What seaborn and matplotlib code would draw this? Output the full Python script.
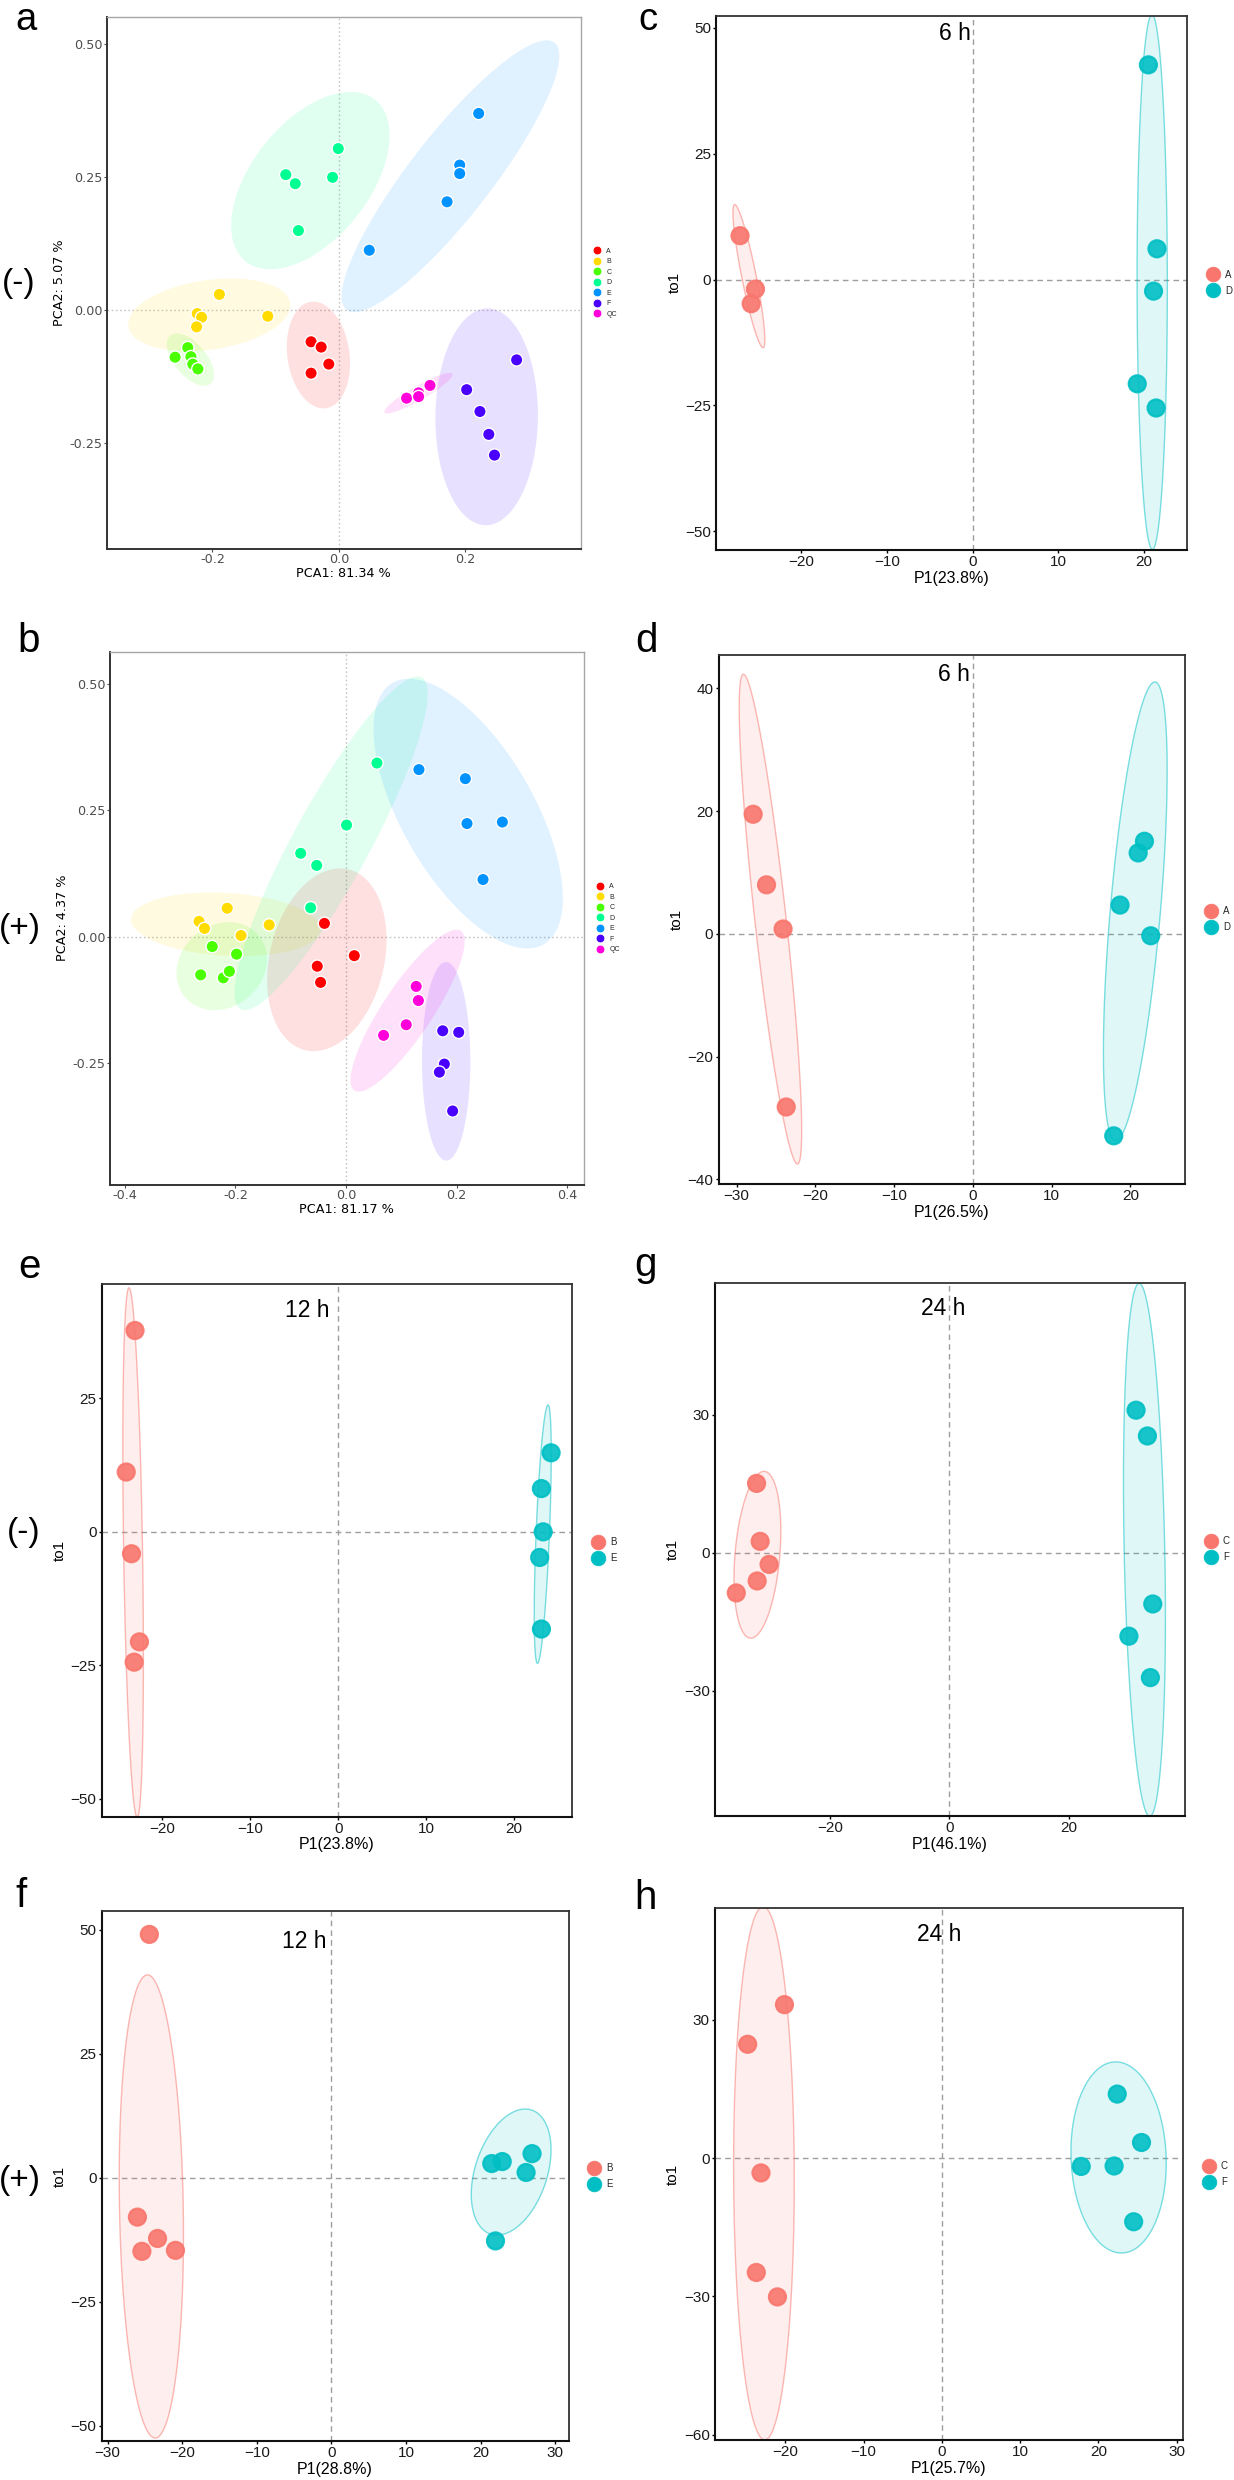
import numpy as np
import pandas as pd
import matplotlib
matplotlib.use("Agg")
import matplotlib.pyplot as plt
from matplotlib.lines import Line2D
from matplotlib.colors import to_rgba
import seaborn as sns

sns.set_theme(style="ticks")
plt.rcParams["font.family"] = ["Liberation Sans", "DejaVu Sans"]

# ---------------- data ----------------
pca_groups = ["A", "B", "C", "D", "E", "F", "QC"]
pca_colors = ["#FF0000", "#FFDB00", "#49FF00", "#00FF92", "#0092FF", "#4900FF", "#FF00DB"]
opls_colors = ["#F8766D", "#00BFC4"]

# a: PCA (-)
a_group = ["A"] * 4 + ["B"] * 5 + ["C"] * 5 + ["D"] * 5 + ["E"] * 5 + ["F"] * 5 + ["QC"] * 4
a_x = [-0.044, -0.028, -0.016, -0.044,
       -0.189, -0.224, -0.217, -0.225, -0.1125,
       -0.239, -0.259, -0.234, -0.231, -0.223,
       -0.001, -0.084, -0.069, -0.010, -0.064,
       0.221, 0.191, 0.191, 0.171, 0.048,
       0.281, 0.202, 0.223, 0.237, 0.246,
       0.107, 0.126, 0.126, 0.144]
a_y = [-0.060, -0.070, -0.102, -0.119,
       0.029, -0.007, -0.014, -0.032, -0.012,
       -0.071, -0.089, -0.088, -0.102, -0.111,
       0.303, 0.254, 0.237, 0.249, 0.149,
       0.369, 0.272, 0.256, 0.203, 0.112,
       -0.094, -0.150, -0.191, -0.234, -0.273,
       -0.166, -0.156, -0.163, -0.142]

# b: PCA (+)
b_group = ["A"] * 4 + ["B"] * 5 + ["C"] * 5 + ["D"] * 5 + ["E"] * 5 + ["F"] * 5 + ["QC"] * 4
b_x = [-0.039, 0.015, -0.052, -0.046,
       -0.215, -0.266, -0.256, -0.190, -0.139,
       -0.242, -0.198, -0.263, -0.222, -0.211,
       0.056, 0.001, -0.082, -0.053, -0.064,
       0.132, 0.216, 0.219, 0.283, 0.248,
       0.175, 0.204, 0.178, 0.169, 0.193,
       0.127, 0.131, 0.109, 0.068]
b_y = [0.026, -0.038, -0.059, -0.091,
       0.056, 0.030, 0.016, 0.002, 0.023,
       -0.020, -0.035, -0.076, -0.082, -0.069,
       0.344, 0.221, 0.165, 0.141, 0.057,
       0.331, 0.313, 0.224, 0.227, 0.113,
       -0.187, -0.190, -0.253, -0.269, -0.346,
       -0.099, -0.127, -0.175, -0.196]

# c: OPLS-DA 6 h (-)
c_group = ["A", "A", "A", "D", "D", "D", "D", "D"]
c_x = [-27.1, -25.3, -25.8, 20.5, 21.5, 21.1, 19.2, 21.4]
c_y = [8.7, -1.9, -4.8, 42.6, 6.1, -2.3, -20.7, -25.5]

# d: OPLS-DA 6 h (+)
d_group = ["A", "A", "A", "A", "D", "D", "D", "D", "D"]
d_x = [-27.9, -26.2, -24.1, -23.7, 21.8, 21.0, 18.7, 22.6, 17.9]
d_y = [19.5, 8.0, 0.8, -28.2, 15.1, 13.2, 4.7, -0.3, -32.9]

# e: OPLS-DA 12 h (-)
e_group = ["B"] * 5 + ["E"] * 5
e_x = [-23.1, -24.1, -23.5, -22.6, -23.2, 24.2, 23.1, 23.3, 22.9, 23.1]
e_y = [37.7, 11.2, -4.1, -20.6, -24.4, 14.8, 8.1, 0.0, -4.8, -18.2]

# f: OPLS-DA 12 h (+)
f_group = ["B"] * 5 + ["E"] * 5
f_x = [-24.4, -26.0, -23.3, -25.4, -20.9, 21.5, 22.9, 26.9, 26.1, 22.0]
f_y = [49.1, -7.9, -12.2, -14.8, -14.6, 2.9, 3.3, 4.9, 1.1, -12.7]

# g: OPLS-DA 24 h (-)
g_group = ["C"] * 5 + ["F"] * 5
g_x = [-32.3, -31.7, -30.2, -32.2, -35.7, 31.3, 33.2, 34.1, 30.1, 33.7]
g_y = [15.1, 2.5, -2.5, -6.1, -8.7, 31.0, 25.4, -11.1, -18.1, -27.1]

# h: OPLS-DA 24 h (+)
h_group = ["C"] * 5 + ["F"] * 5
h_x = [-20.1, -24.8, -23.1, -23.7, -21.0, 22.4, 25.5, 17.8, 22.0, 24.5]
h_y = [33.3, 24.7, -3.2, -24.8, -30.1, 13.9, 3.4, -1.8, -1.7, -13.8]

# tick labels
pca_yticks = [-0.25, 0.0, 0.25, 0.50]
pca_ytick_labels = ["-0.25", "0.00", "0.25", "0.50"]
a_xticks = [-0.2, 0.0, 0.2]
a_xtick_labels = ["-0.2", "0.0", "0.2"]
b_xticks = [-0.4, -0.2, 0.0, 0.2, 0.4]
b_xtick_labels = ["-0.4", "-0.2", "0.0", "0.2", "0.4"]

W, H = 1234, 2480
fig = plt.figure(figsize=(W / 100, H / 100), dpi=100)
fig.patch.set_facecolor("white")


def px_axes(l, r, t, b):
    return fig.add_axes([l / W, 1 - b / H, (r - l) / W, (b - t) / H])


def cov_trob(pts, nu=5, maxit=25, tol=0.01):
    # robust t covariance (as MASS::cov.trob)
    n, p = pts.shape
    loc = pts.mean(axis=0)
    w = np.ones(n)
    for _ in range(maxit):
        w0 = w
        X = pts - loc
        _, d, vt = np.linalg.svd(np.sqrt(w / w.sum())[:, None] * X, full_matrices=False)
        wX = X @ vt.T / d
        Q = (wX ** 2).sum(axis=1)
        w = (nu + p) / (nu + Q)
        loc = (w[:, None] * pts).sum(axis=0) / w.sum()
        if np.all(np.abs(w - w0) < tol):
            break
    sX = np.sqrt(w)[:, None] * X
    return loc, sX.T @ sX / n


def ellipse(xs, ys, level=0.95, chisq=False):
    pts = np.column_stack([xs, ys])
    center, shape = cov_trob(pts)
    if chisq:
        radius = np.sqrt(-2 * np.log(1 - level))
    else:
        dfd = len(xs) - 1
        fq = dfd / 2 * ((1 - level) ** (-2 / dfd) - 1)
        radius = np.sqrt(2 * fq)
    chol = np.linalg.cholesky(shape).T
    t = np.linspace(0, 2 * np.pi, 101)
    circ = np.column_stack([np.cos(t), np.sin(t)])
    e = center + radius * circ @ chol
    return e[:, 0], e[:, 1]


def place_labels(ax, rect, below, left):
    l, r, t, b = rect
    ax.xaxis.set_label_coords(0.5, -below / (b - t))
    ax.xaxis.label.set_va("center")
    ax.yaxis.set_label_coords(-left / (r - l), 0.5)
    ax.yaxis.label.set_va("center")


def legend_at(ax, rect, groups, colors, offset, fs, ms, hl, pad, spacing, edge):
    l, r, t, b = rect
    handles = [Line2D([], [], ls="", marker="o", markersize=ms, markerfacecolor=c,
                      markeredgecolor=edge if edge else c, markeredgewidth=0.6)
               for c in colors]
    anchor = r + offset - hl * fs * 100 / 72 / 2
    ax.legend(handles, groups, loc="center left",
              bbox_to_anchor=((anchor - l) / (r - l), 0.5),
              frameon=False, fontsize=fs, handlelength=hl, handletextpad=pad,
              labelspacing=spacing, borderpad=0, borderaxespad=0)


def draw_pca(rect, x, y, group, xlim, ylim, xticks, xtl, xlabel, ylabel):
    ax = px_axes(*rect)
    df = pd.DataFrame({"x": x, "y": y, "group": group})
    ax.axhline(0, color="#C4C4C4", lw=1.0, ls=(0, (1.2, 1.8)), zorder=0)
    ax.axvline(0, color="#C4C4C4", lw=1.0, ls=(0, (1.2, 1.8)), zorder=0)
    for g, col in zip(pca_groups, pca_colors):
        sub = df[df["group"] == g]
        ex, ey = ellipse(sub["x"].values, sub["y"].values)
        ax.fill(ex, ey, color=col, alpha=0.12, lw=0, zorder=1)
    sns.scatterplot(data=df, x="x", y="y", hue="group", hue_order=pca_groups,
                    palette=pca_colors, s=80, edgecolor="white", linewidth=1.0,
                    legend=False, ax=ax, zorder=3)
    ax.set_xlim(xlim)
    ax.set_ylim(ylim)
    ax.set_xticks(xticks)
    ax.set_xticklabels(xtl, fontsize=9.2, fontfamily="DejaVu Sans", color="#4D4D4D")
    ax.set_yticks(pca_yticks)
    ax.set_yticklabels(pca_ytick_labels, fontsize=9.2, fontfamily="DejaVu Sans", color="#4D4D4D")
    ax.tick_params(length=2, width=0.8, color="#4D4D4D", pad=1)
    ax.set_xlabel(xlabel, fontsize=9.2, fontfamily="DejaVu Sans", color="black")
    ax.set_ylabel(ylabel, fontsize=9.2, fontfamily="DejaVu Sans", color="black")
    for s in ["left", "bottom"]:
        ax.spines[s].set_color("#333333")
        ax.spines[s].set_linewidth(1.4)
    for s in ["top", "right"]:
        ax.spines[s].set_color("#A6A6A6")
        ax.spines[s].set_linewidth(1.0)
    place_labels(ax, rect, 24.6, 47.5)
    legend_at(ax, rect, pca_groups, pca_colors, 16.5, 5, 6.3, 1.3, 0.7, 0.5, "white")
    return ax


def draw_opls(rect, x, y, group, groups, xlim, ylim, xticks, yticks, title, title_xy, xlabel):
    ax = px_axes(*rect)
    df = pd.DataFrame({"x": x, "y": y, "group": group})
    ax.axhline(0, color="#9E9E9E", lw=1.0, ls=(0, (4, 3)), zorder=0)
    ax.axvline(0, color="#9E9E9E", lw=1.0, ls=(0, (4, 3)), zorder=0)
    for g, col in zip(groups, opls_colors):
        sub = df[df["group"] == g]
        ex, ey = ellipse(sub["x"].values, sub["y"].values, chisq=True)
        ax.fill(ex, ey, facecolor=to_rgba(col, 0.12), edgecolor=to_rgba(col, 0.5),
                lw=1.0, zorder=1)
    sns.scatterplot(data=df, x="x", y="y", hue="group", hue_order=groups,
                    palette=opls_colors, s=150, alpha=0.9, edgecolor="face",
                    linewidth=1.6, legend=False, ax=ax, zorder=3)
    ax.set_xlim(xlim)
    ax.set_ylim(ylim)
    ax.set_xticks(xticks)
    ax.set_xticklabels([f"{v:d}".replace("-", "\u2212") for v in xticks], fontsize=11)
    ax.set_yticks(yticks)
    ax.set_yticklabels([f"{v:d}".replace("-", "\u2212") for v in yticks], fontsize=11)
    ax.tick_params(length=2.5, width=1.0, color="black", pad=1.2, labelcolor="#1A1A1A")
    for s in ["left", "bottom"]:
        ax.spines[s].set_color("#111111")
        ax.spines[s].set_linewidth(1.5)
    for s in ["top", "right"]:
        ax.spines[s].set_color("#333333")
        ax.spines[s].set_linewidth(1.3)
    ax.text(title_xy[0], title_xy[1], title, fontsize=16.5, ha="center", va="center",
            color="black", zorder=4)
    ax.set_xlabel(xlabel, fontsize=11.5, color="black")
    ax.set_ylabel("to1", fontsize=11, color="black")
    place_labels(ax, rect, 28.5, 41.5)
    legend_at(ax, rect, groups, opls_colors, 25.6, 7, 10.5, 1.4, 0.56, 0.62, None)
    return ax


rect_a = (106.8, 580.5, 16.6, 548.8)
rect_b = (109.5, 583.6, 651.6, 1184.6)
rect_e = (101.6, 572.2, 1283.5, 1816.5)
rect_f = (101.6, 568.6, 1910.6, 2441.3)
rect_c = (716.0, 1187.0, 15.5, 549.6)
rect_d = (718.5, 1185.0, 654.7, 1184.0)
rect_g = (714.8, 1185.0, 1282.7, 1815.7)
rect_h = (714.8, 1183.0, 1908.3, 2439.8)

draw_pca(rect_a, a_x, a_y, a_group, (-0.367, 0.382), (-0.449, 0.551),
         a_xticks, a_xtick_labels, "PCA1: 81.34 %", "PCA2: 5.07 %")
draw_pca(rect_b, b_x, b_y, b_group, (-0.428, 0.430), (-0.492, 0.565),
         b_xticks, b_xtick_labels, "PCA1: 81.17 %", "PCA2: 4.37 %")

draw_opls(rect_c, c_x, c_y, c_group, ["A", "D"], (-29.9, 25.0), (-53.6, 52.4),
          [-20, -10, 0, 10, 20], [-50, -25, 0, 25, 50], "6 h", (-2.0, 48.8), "P1(23.8%)")
draw_opls(rect_d, d_x, d_y, d_group, ["A", "D"], (-32.3, 26.95), (-40.75, 45.5),
          [-30, -20, -10, 0, 10, 20], [-40, -20, 0, 20, 40], "6 h", (-2.4, 42.3), "P1(26.5%)")
draw_opls(rect_e, e_x, e_y, e_group, ["B", "E"], (-26.9, 26.6), (-53.3, 46.5),
          [-20, -10, 0, 10, 20], [-50, -25, 0, 25], "12 h", (-3.5, 41.4), "P1(23.8%)")
draw_opls(rect_f, f_x, f_y, f_group, ["B", "E"], (-30.8, 31.8), (-53.1, 53.9),
          [-30, -20, -10, 0, 10, 20, 30], [-50, -25, 0, 25, 50], "12 h", (-3.7, 47.6), "P1(28.8%)")
draw_opls(rect_g, g_x, g_y, g_group, ["C", "F"], (-39.3, 39.5), (-57.1, 58.7),
          [-20, 0, 20], [-30, 0, 30], "24 h", (-1.1, 53.2), "P1(46.1%)")
draw_opls(rect_h, h_x, h_y, h_group, ["C", "F"], (-29.0, 30.8), (-61.1, 54.2),
          [-20, -10, 0, 10, 20, 30], [-60, -30, 0, 30], "24 h", (-0.4, 48.5), "P1(25.7%)")

# panel letters (left x, baseline y in pixels)
for letter, lx, by in [("a", 15, 29.5), ("b", 17.8, 651.6), ("e", 17.8, 1277.6),
                       ("f", 15.8, 1906.7), ("c", 638.4, 29.5), ("d", 635.6, 652),
                       ("g", 634.4, 1275.8), ("h", 634.4, 1909.4)]:
    fs = 27.5 if letter in "ac" else 29
    fig.text(lx / W, 1 - by / H, letter, fontsize=fs, ha="left", va="baseline", color="black")

# ion mode markers
for lab, cx, cy in [("(-)", 18.8, 283.5), ("(+)", 19.4, 929), ("(-)", 23.7, 1532.6),
                    ("(+)", 19.4, 2181)]:
    fig.text(cx / W, 1 - cy / H, lab, fontsize=24, ha="center", va="center", color="black")

fig.savefig("out.png", dpi=100, facecolor="white")
